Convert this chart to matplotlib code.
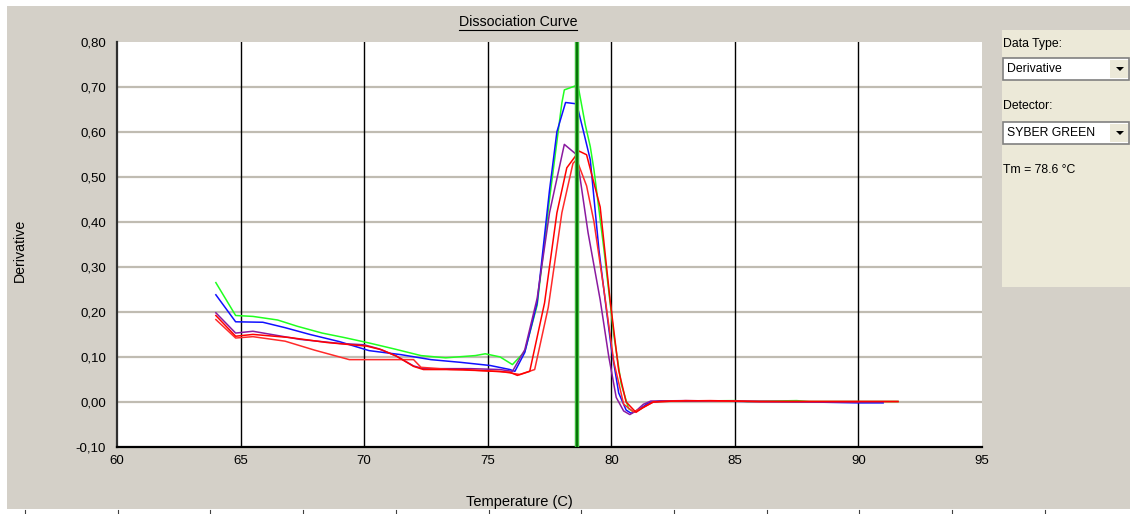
import matplotlib
matplotlib.use("Agg")
import matplotlib.pyplot as plt
from matplotlib.patches import Rectangle, Polygon
from matplotlib.lines import Line2D
import numpy as np

plt.rcParams['font.family'] = ['Liberation Sans', 'DejaVu Sans']

# ---- data ----
green_t = [64.0, 64.8, 65.5, 66.5, 67.3, 68.3, 69.2, 70.2, 71.2, 72.3, 73.3, 74.5, 74.9, 75.5, 76.0,
           76.5, 77.0, 77.5, 78.0, 78.1, 78.65, 78.95, 79.15, 79.3, 79.7, 80.1, 80.4, 80.7, 80.9, 81.2,
           81.6, 82.2, 83.0, 85.0, 85.5, 87.5, 88.0, 90.0, 91.6]
green_v = [0.265, 0.192, 0.190, 0.182, 0.168, 0.153, 0.143, 0.131, 0.118, 0.103, 0.098, 0.103, 0.107, 0.100, 0.083,
           0.112, 0.215, 0.450, 0.664, 0.693, 0.704, 0.615, 0.567, 0.515, 0.340, 0.150, 0.040, -0.015, -0.022, -0.015,
           0.000, 0.002, 0.002, 0.003, 0.001, 0.003, 0.001, 0.001, 0.001]

blue_t = [64.0, 64.8, 65.9, 66.8, 67.8, 69.0, 70.2, 71.5, 72.7, 73.9, 75.1, 75.9, 76.1, 76.5, 77.0,
          77.5, 77.8, 78.15, 78.6, 78.86, 79.15, 79.5, 79.75, 80.0, 80.3, 80.6, 80.8, 81.1, 81.5, 82.0,
          84.0, 86.0, 88.0, 90.0, 91.0]
blue_v = [0.238, 0.178, 0.177, 0.165, 0.150, 0.134, 0.114, 0.105, 0.094, 0.088, 0.081, 0.072, 0.068, 0.110, 0.220,
          0.470, 0.600, 0.665, 0.662, 0.604, 0.538, 0.338, 0.227, 0.120, 0.020, -0.018, -0.025, -0.018, -0.002, 0.002,
          0.002, 0.001, 0.000, -0.002, -0.002]

purple_t = [64.0, 64.8, 65.5, 67.4, 69.0, 70.0, 70.6, 71.3, 72.0, 72.4, 74.3, 75.5, 76.0, 76.5, 77.0,
            77.5, 78.1, 78.6, 79.06, 79.55, 79.9, 80.2, 80.5, 80.75, 81.0, 81.3, 81.6, 83.0, 84.5, 86.0, 90.0]
purple_v = [0.198, 0.153, 0.157, 0.139, 0.130, 0.127, 0.118, 0.102, 0.080, 0.074, 0.074, 0.072, 0.068, 0.116, 0.230,
            0.420, 0.572, 0.549, 0.376, 0.227, 0.100, 0.010, -0.020, -0.028, -0.020, -0.005, 0.002, 0.003, 0.002, 0.001, 0.000]

red1_t = [64.0, 64.8, 65.5, 67.0, 68.5, 70.1, 70.7, 71.3, 72.0, 72.4, 74.0, 75.9, 76.2, 76.7, 77.3,
          77.8, 78.2, 78.7, 79.0, 79.55, 79.95, 80.3, 80.6, 81.0, 81.3, 81.7, 82.5, 84.0, 86.0, 88.0, 91.6]
red1_v = [0.192, 0.146, 0.150, 0.143, 0.132, 0.124, 0.116, 0.102, 0.079, 0.072, 0.072, 0.066, 0.059, 0.068, 0.220,
          0.420, 0.520, 0.557, 0.549, 0.433, 0.227, 0.070, 0.000, -0.023, -0.012, 0.000, 0.002, 0.003, 0.001, 0.001, 0.001]

red2_t = [64.0, 64.8, 65.5, 66.8, 68.0, 69.4, 71.5, 72.0, 72.3, 73.5, 75.5, 76.3, 76.9, 77.45, 78.0,
          78.45, 78.6, 79.0, 79.3, 79.7, 80.1, 80.5, 80.9, 81.3, 81.7, 83.0, 86.0, 91.6]
red2_v = [0.183, 0.142, 0.145, 0.135, 0.115, 0.094, 0.094, 0.094, 0.077, 0.072, 0.068, 0.061, 0.072, 0.210, 0.420,
          0.530, 0.538, 0.480, 0.400, 0.250, 0.090, -0.005, -0.022, -0.012, 0.000, 0.003, 0.001, 0.001]

tm = 78.6
x_ticks = [60, 65, 70, 75, 80, 85, 90, 95]
y_ticks = [-0.10, 0.00, 0.10, 0.20, 0.30, 0.40, 0.50, 0.60, 0.70, 0.80]

W, H = 1130, 514
bg = '#d4d0c8'


def fx(x):
    return x / W


def fy(y):
    return 1 - y / H


fig = plt.figure(figsize=(W / 100, H / 100), dpi=100, facecolor='white')

# grey window background
fig.patches.append(Rectangle((fx(7), fy(509)), fx(W - 7), 503 / H, transform=fig.transFigure,
                             facecolor=bg, edgecolor='none', zorder=-10))

ax = fig.add_axes([fx(117), fy(447), fx(982 - 117), (447 - 41.7) / H])
ax.set_facecolor('white')
ax.set_xlim(60, 95)
ax.set_ylim(-0.1, 0.8)

for v in y_ticks[1:-1]:
    ax.axhline(v, color='#c0bcb2', lw=1.6, zorder=1)
for v in x_ticks[1:-1]:
    ax.axvline(v, color='black', lw=1.0, zorder=1)

ax.plot(green_t, green_v, color='#20ff20', lw=1.1, zorder=3)
ax.plot(blue_t, blue_v, color='#1010ff', lw=1.1, zorder=3)
ax.plot(purple_t, purple_v, color='#8a1aa0', lw=1.1, zorder=3)
ax.plot(red2_t, red2_v, color='#ff2a2a', lw=1.1, zorder=3)
ax.plot(red1_t, red1_v, color='#ff0000', lw=1.1, zorder=3)

ax.axvline(tm, color='#40c040', lw=3.2, zorder=4)
ax.axvline(tm, color='#006400', lw=1.2, zorder=5)

ax.set_xticks(x_ticks)
ax.set_yticks(y_ticks)
ax.set_xticklabels([str(v) for v in x_ticks], fontsize=9.5)
ax.set_yticklabels([f"{v:.2f}".replace('.', ',') for v in y_ticks], fontsize=9.5)
ax.tick_params(length=0)
ax.tick_params(axis='y', pad=8)
ax.tick_params(axis='x', pad=6)
for s in ['top', 'right']:
    ax.spines[s].set_visible(False)
ax.spines['left'].set_linewidth(1.6)
ax.spines['left'].set_color('#303030')
ax.spines['bottom'].set_linewidth(1.6)
ax.spines['bottom'].set_color('black')

title = fig.text(fx(518), fy(22), 'Dissociation Curve', ha='center', va='center', fontsize=10.2)
fig.text(fx(20), fy(250), 'Derivative', ha='center', va='center', rotation=90, fontsize=10.2)
fig.text(fx(519), fy(502), 'Temperature (C)', ha='center', va='center', fontsize=10.5)

# right-hand control panel
fig.patches.append(Rectangle((fx(1002), fy(287)), fx(128), 257 / H, transform=fig.transFigure,
                             facecolor='#ece9d8', edgecolor='none', zorder=-5))


def combo(y0, label):
    fig.patches.append(Rectangle((fx(1003), fy(y0 + 22)), fx(126), 22 / H, transform=fig.transFigure,
                                 facecolor='white', edgecolor='#808080', lw=1.2))
    fig.patches.append(Rectangle((fx(1110), fy(y0 + 20)), fx(18), 18 / H, transform=fig.transFigure,
                                 facecolor='#ece9d8', edgecolor='none'))
    fig.patches.append(Polygon([(fx(1116), fy(y0 + 9)), (fx(1124), fy(y0 + 9)), (fx(1120), fy(y0 + 13))],
                               closed=True, transform=fig.transFigure, facecolor='black', edgecolor='none'))
    fig.text(fx(1007), fy(y0 + 11), label, ha='left', va='center', fontsize=8.8)


fig.text(fx(1003), fy(44), 'Data Type:', ha='left', va='center', fontsize=8.8)
combo(58, 'Derivative')
fig.text(fx(1003), fy(106), 'Detector:', ha='left', va='center', fontsize=8.8)
combo(122, 'SYBER GREEN')
fig.text(fx(1003), fy(170), 'Tm = 78.6 °C', ha='left', va='center', fontsize=8.8)

# bottom strip ticks
fig.add_artist(Line2D([fx(7), 1], [fy(510.5), fy(510.5)], transform=fig.transFigure, color='white', lw=1))
for xp in np.arange(25, W, 92.7):
    fig.add_artist(Line2D([fx(xp), fx(xp)], [fy(510), fy(514)], transform=fig.transFigure, color='#404040', lw=0.8))

# underline the title
fig.canvas.draw()
bb = title.get_window_extent(fig.canvas.get_renderer())
fig.add_artist(Line2D([bb.x0 / W, bb.x1 / W], [(bb.y0 - 1) / H, (bb.y0 - 1) / H],
                      transform=fig.transFigure, color='black', lw=0.8))

fig.savefig('out.png', dpi=100, facecolor='white')
